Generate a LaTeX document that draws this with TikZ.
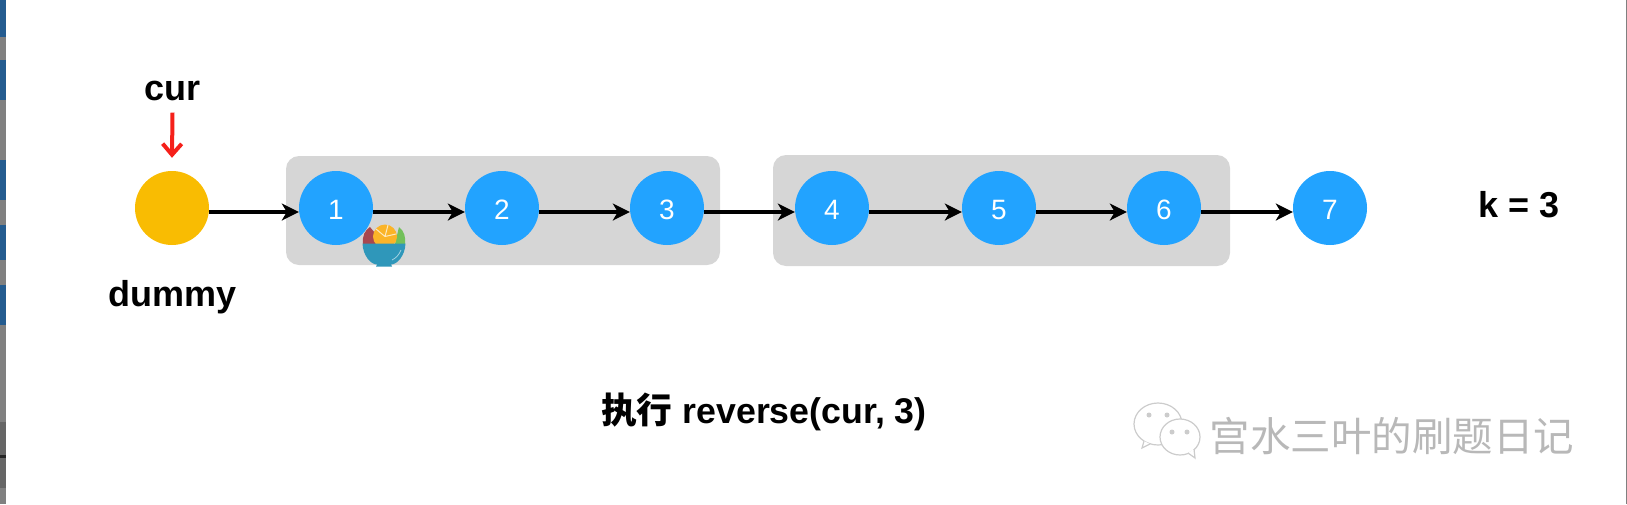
\documentclass[tikz,border=0pt]{standalone}
\usepackage{xcolor}
\usepackage{fontspec}
\usetikzlibrary{arrows.meta}
\setmainfont{Liberation Sans}
\newfontfamily\cjkfont{Noto Sans CJK SC}
\definecolor{nodeblue}{HTML}{22A3FF}
\definecolor{dummyyellow}{HTML}{F9BC02}
\definecolor{groupgray}{HTML}{D6D6D6}
\definecolor{curred}{HTML}{F5201A}
\definecolor{stripblue}{HTML}{245C90}
\definecolor{stripgray}{HTML}{808080}
\definecolor{bowlblue}{HTML}{2F97BA}
\definecolor{fruitred}{HTML}{A8474F}
\definecolor{fruitgreen}{HTML}{72C05A}
\definecolor{fruitorange}{HTML}{FBB428}
\tikzset{
    listnode/.style={circle, fill=nodeblue, text=white, inner sep=0pt, minimum size=74pt, text height=23pt, text depth=0pt, font=\fontsize{28}{28}\selectfont},
    groupbox/.style={fill=groupgray, rounded corners=13pt, inner sep=0pt},
    label/.style={inner sep=0pt, font=\fontsize{36}{36}\selectfont\bfseries},
    link/.style={line width=3.4pt, -{Stealth[length=17pt, width=17pt, inset=5pt]}},
    bubble/.style={draw=black!20, fill=white, line width=1.2pt}
}
\begin{document}
\begin{tikzpicture}[x=1pt, y=-1pt]
        \useasboundingbox (0,0) rectangle (1627,504);
        % Franja de la captura a la izquierda
        \fill[stripgray] (0,0) rectangle (6,504);
        \fill[black!60] (0,422) rectangle (6,488);
        \fill[black!85] (0,455) rectangle (6,458);
        \foreach \y/\h in {0/37, 60/40, 160/40, 225/35, 285/40}
            \fill[stripblue] (0,\y) rectangle (6,\y+\h);
        \draw[stripgray, line width=1pt] (1626.5,0) -- (1626.5,504);
        % Cajas grises
        \node[groupbox, minimum width=434pt, minimum height=109pt] (groupA) at (503,210.5) {};
        \node[groupbox, minimum width=457pt, minimum height=111pt] (groupB) at (1001.5,210.5) {};
        % Nodos de la lista
        \node[listnode, fill=dummyyellow] (dummy) at (172,208) {};
        \node[listnode] (n1) at (336,208) {1};
        \node[listnode] (n2) at (502,208) {2};
        \node[listnode] (n3) at (667,208) {3};
        \node[listnode] (n4) at (832,208) {4};
        \node[listnode] (n5) at (999,208) {5};
        \node[listnode] (n6) at (1164,208) {6};
        \node[listnode] (n7) at (1330,208) {7};
        % Flechas entre nodos
        \foreach \a/\b in {dummy/n1, n1/n2, n2/n3, n3/n4, n4/n5, n5/n6, n6/n7}
            \draw[link] ([yshift=-4pt]\a.east) -- ([yshift=-4pt]\b.west);
        % Textos
        \node[label] (cur) at (172.5,90.5) {cur};
        \node[label] (dummytext) at (173,297) {dummy};
        \node[label] (ktext) at (1519,204.5) {k = 3};
        \node[label, font=\fontsize{35.7}{36}\selectfont\bfseries] (title) at (764,412) {{\cjkfont 执行} reverse(cur, 3)};
        \draw[curred, line width=4pt, -{Straight Barb[length=11pt, width=19pt]}] (cur.south) ++(0,12) coordinate (curtop) -- ([yshift=13pt]dummy.north);
        % Cuenco con fruta
        \fill[fruitred] (363,244) .. controls (362,236) and (365,230) .. (370,227) -- (384,244) -- cycle;
        \fill[fruitgreen] (395,244) -- (399,227) .. controls (404,231) and (406,237) .. (405,244) -- cycle;
        \fill[fruitorange] (385,236.5) circle (12);
        \draw[white!70!fruitorange, line width=1pt] (385,236.5) -- (376,229) (385,236.5) -- (388,225) (385,236.5) -- (396,234);
        \fill[bowlblue] (362.5,243.5) -- (405.5,243.5) .. controls (405,256) and (397,264.5) .. (391,264.5) -- (392,266.5) -- (376,266.5) -- (377,264.5) .. controls (371,264.5) and (363,256) .. (362.5,243.5) -- cycle;
        \draw[white!55!bowlblue, line width=0.8pt] (401,250) .. controls (399,255) and (396,258) .. (392,260);
        % Marca de agua
        \draw[bubble] (1158,424) ellipse (24 and 21);
        \draw[bubble] (1144,441) -- (1142,448) -- (1150,444);
        \draw[bubble] (1180,437) ellipse (20 and 18);
        \draw[bubble] (1188,453) -- (1195,458) -- (1194,449);
        \fill[black!20] (1149,415) circle (2.5) (1167,415) circle (2.5) (1172,432) circle (2.5) (1187,432) circle (2.5);
        \node[inner sep=0pt, text=black!28, font=\fontsize{40.5}{41}\cjkfont] (mark) at (1392,436) {宫水三叶的刷题日记};
    \end{tikzpicture}
\end{document}
